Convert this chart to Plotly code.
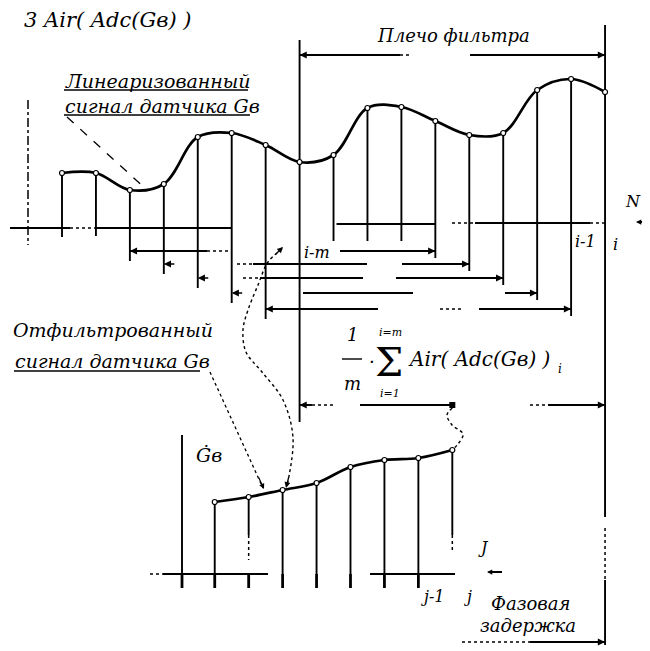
import plotly.graph_objects as go

# ---------------- data ----------------
top_index = list(range(17))                      # samples i-16 ... i
top_values = [55, 55, 38, 44, 91, 95, 83, 66, 73, 120, 121, 107, 93, 95, 138, 149, 136]
bottom_index = [4.5, 5.5, 6.5, 7.5, 8.5, 9.5, 10.5, 11.5]   # filtered samples (half-window delay)
bottom_values = [72, 77, 84, 91, 107, 114, 116, 124]
window_start = [2, 3, 4, 5, 6, 7]                # first sample of each averaging window
window_size = 10                                  # m

# ---------------- layout constants ----------------
W, H = 650, 651
PAGE = 8                                          # default page margin of the html body
X0, DX = 62, 33.94
TOP_BASE, BOT_BASE = 228, 574
FONT = "DejaVu Serif"
LW = 1.9


def sx(k):
    return X0 + DX * k


def Y(p):
    return H - p


fig = go.Figure()


def lines(segs, width=LW, dash="solid"):
    xs, ys = [], []
    for s in segs:
        for (x, y) in s:
            xs.append(x)
            ys.append(Y(y))
        xs.append(None)
        ys.append(None)
    fig.add_trace(go.Scatter(x=xs, y=ys, mode="lines", hoverinfo="skip",
                             line=dict(color="black", width=width, dash=dash),
                             showlegend=False))


def curve(pts, width=1.5, dash="dot", shape="spline"):
    fig.add_trace(go.Scatter(x=[p[0] for p in pts], y=[Y(p[1]) for p in pts],
                             mode="lines", hoverinfo="skip",
                             line=dict(color="black", width=width, dash=dash,
                                       shape=shape, smoothing=1.0),
                             showlegend=False))


ann = []


def arrow(xh, yh, xt, yt, w=1.6, size=0.9):
    ann.append(dict(x=xh, y=Y(yh), ax=xt, ay=Y(yt), xref="x", yref="y",
                    axref="x", ayref="y", showarrow=True, arrowhead=2,
                    arrowsize=size, arrowwidth=w, arrowcolor="black", text=""))


def text(x, y, s, size=18, anchor="left", family=FONT, style="italic"):
    ann.append(dict(x=x, y=Y(y), xref="x", yref="y", text=s, showarrow=False,
                    xanchor=anchor, yanchor="middle",
                    font=dict(family=family, size=size, color="black", style=style)))


top_x = [sx(k) for k in top_index]
top_y = [TOP_BASE - v for v in top_values]
bot_x = [sx(k) for k in bottom_index]
bot_y = [BOT_BASE - v for v in bottom_values]

# ---------------- top axes ----------------
lines([[(28, 100), (28, 245)]], width=1.5, dash="dashdot")
lines([[(10, TOP_BASE), (70, TOP_BASE)], [(95, TOP_BASE), (sx(5), TOP_BASE)],
       [(sx(8) + 3, 224), (sx(11), 224)], [(475, 223), (590, 223)]])
lines([[(70, TOP_BASE), (95, TOP_BASE)], [(452, 223), (475, 223)],
       [(590, 223), (sx(16), 223)]], width=1.5, dash="dot")

# window levels (px) and vertical ends
levels = [251, 264, 278, 293, 309, 405]
vend = {0: 237, 1: 236, 8: 241, 9: 241, 10: 241}
for i, k in enumerate(window_start[:5]):
    vend[k] = levels[i] + 10
    vend[k + window_size - 1] = levels[i] + 7
vend[7] = 422

vsegs = []
for k in top_index:
    if k == 16:
        continue
    top = 40 if k == 7 else top_y[k]
    vsegs.append([(top_x[k], top), (top_x[k], vend[k])])
# right boundary (current sample i)
vsegs.append([(sx(16), 25), (sx(16), 517)])
vsegs.append([(sx(16), 580), (sx(16), 645)])
lines(vsegs)
lines([[(sx(16), 528), (sx(16), 580)]], width=1.5, dash="dot")

# top signal
fig.add_trace(go.Scatter(x=top_x, y=[Y(v) for v in top_y], mode="lines+markers",
                         line=dict(color="black", width=2.7, shape="spline", smoothing=1.0),
                         marker=dict(symbol="circle", size=5, color="white",
                                     line=dict(color="black", width=1.2)),
                         hoverinfo="skip", showlegend=False))

# filter span "Плечо фильтра"
lines([[(sx(7), 55), (400, 55)], [(470, 55), (sx(16), 55)]])
lines([[(400, 55), (412, 55)]], width=1.5, dash="dot")
arrow(sx(7), 55, sx(7) + 14, 55)
arrow(sx(16), 55, sx(16) - 14, 55)
text(453, 35, "Плечо фильтра", size=18, anchor="center")

# averaging windows
ws = []
L = levels
ws += [[(sx(2), L[0]), (207, L[0])], [(340, L[0]), (sx(11), L[0])]]
ws += [[(253, L[1]), (367, L[1])], [(402, L[1]), (sx(12), L[1])]]
ws += [[(260, L[2]), (363, L[2])], [(396, L[2]), (sx(13), L[2])]]
ws += [[(303, L[3]), (413, L[3])], [(505, L[3]), (sx(14), L[3])]]
ws += [[(sx(6), L[4]), (378, L[4])], [(479, L[4]), (sx(15), L[4])]]
ws += [[(sx(7), L[5]), (312, L[5])], [(360, L[5]), (sx(11.5), L[5])], [(548, L[5]), (sx(16), L[5])]]
lines(ws)
lines([[(207, L[0]), (228, L[0])], [(237, L[1]), (253, L[1])], [(243, L[2]), (258, L[2])],
       [(440, L[4]), (462, L[4])], [(312, L[5]), (335, L[5])], [(530, L[5]), (548, L[5])]],
      width=1.5, dash="dot")
for i, k in enumerate(window_start):
    arrow(sx(k), levels[i], sx(k) + 12, levels[i])
    arrow(sx(k + window_size - 1), levels[i], sx(k + window_size - 1) - 12, levels[i])
fig.add_trace(go.Scatter(x=[sx(11.5)], y=[Y(L[5])], mode="markers", hoverinfo="skip",
                         marker=dict(symbol="square", size=6, color="black"), showlegend=False))

# labels on top axis
text(317, 252, "i-m", size=16, anchor="center")
text(585, 241, "i-1", size=16, anchor="center")
text(615, 244, "i", size=16, anchor="center")
text(633, 201, "N", size=16, anchor="center")
lines([[(638, 222), (650, 222)]], width=2)
arrow(636, 222, 646, 222, w=1.5, size=0.7)

# title
text(22, 20, "3 Air( Adc(Gв) )", size=21)

# top label
text(63, 81, "Линеаризованный", size=19)
text(63, 106, "сигнал датчика Gв", size=19)
lines([[(64, 90), (248, 90)], [(64, 115), (250, 115)]], width=1.3)
curve([(67, 117), (147, 190)], width=1.3, dash="dash", shape="linear")

# formula
text(352, 334, "1", size=18, anchor="center")
lines([[(342, 359), (362, 359)]], width=1.4)
text(352, 383, "m", size=18, anchor="center")
text(372, 361, "·", size=18, anchor="center")
text(389, 362, "Σ", size=40, anchor="center", style="normal")
text(390, 332, "i=m", size=11, anchor="center")
text(390, 393, "i=1", size=11, anchor="center")
text(406, 359, "Air( Adc(Gв) )", size=20)
text(556, 369, "i", size=12)

# connecting curves
curve([(282, 249), (268, 262), (258, 285), (248, 310), (243, 330), (246, 352),
       (262, 372), (283, 400), (293, 438), (287, 486)], width=1.4, dash="dot")
arrow(283, 247, 274, 256, w=1.3, size=0.9)
arrow(286, 488, 289, 476, w=1.3, size=0.9)
curve([(sx(11.5), 408), (447, 415), (452, 425), (463, 434), (458, 444), (sx(11.5), 450)],
      width=1.4, dash="dot")

# bottom label
text(11, 330, "Отфильтрованный", size=19)
text(13, 361, "сигнал датчика Gв", size=19)
lines([[(14, 371), (200, 371)]], width=1.3)
curve([(210, 372), (263, 488)], width=1.3, dash="dot", shape="linear")
arrow(264, 489, 258, 476, w=1.2, size=0.9)

# bottom axes
lines([[(182, 435), (182, 588)]])
text(194, 455, "Ġв", size=19)
lines([[(163, BOT_BASE), (268, BOT_BASE)], [(370, BOT_BASE), (455, BOT_BASE)]])
lines([[(150, BOT_BASE), (163, BOT_BASE)]], width=1.5, dash="dot")
ticks = [[(182, BOT_BASE), (182, 588)]] + [[(x, BOT_BASE), (x, 588)] for x in bot_x[:-1]]
lines(ticks, width=2.8)
bv = []
for i, (x, y) in enumerate(zip(bot_x, bot_y)):
    if i in (1, 7):
        bv.append([(x, y), (x, 535)])
    else:
        bv.append([(x, y), (x, BOT_BASE)])
lines(bv)
lines([[(bot_x[1], 535), (bot_x[1], 560)], [(bot_x[7], 535), (bot_x[7], 550)]], width=1.5, dash="dot")

fig.add_trace(go.Scatter(x=bot_x, y=[Y(v) for v in bot_y], mode="lines+markers",
                         line=dict(color="black", width=2.7, shape="spline", smoothing=1.0),
                         marker=dict(symbol="circle", size=5, color="white",
                                     line=dict(color="black", width=1.2)),
                         hoverinfo="skip", showlegend=False))

text(433, 596, "j-1", size=16, anchor="center")
text(468, 596, "j", size=16, anchor="center")
text(483, 547, "J", size=16, anchor="center")
lines([[(490, 572), (502, 572)]], width=2)
arrow(487, 572, 497, 572, w=1.5, size=0.7)

# phase delay
text(530, 603, "Фазовая", size=18, anchor="center")
text(528, 625, "задержка", size=18, anchor="center")
lines([[(530, 642), (sx(16), 642)]])
lines([[(462, 642), (530, 642)]], width=1.5, dash="dot")
arrow(sx(16), 642, sx(16) - 14, 642)

# figure is placed PAGE px from the page corner, so the axes are offset by the same amount
fig.update_layout(
    width=W - PAGE, height=H - PAGE, margin=dict(l=0, r=0, t=0, b=0),
    paper_bgcolor="white", plot_bgcolor="white",
    xaxis=dict(range=[PAGE, W], visible=False, fixedrange=True),
    yaxis=dict(range=[Y(H), Y(PAGE)], visible=False, fixedrange=True),
    annotations=ann, showlegend=False,
)
fig.write_html("out.html")
